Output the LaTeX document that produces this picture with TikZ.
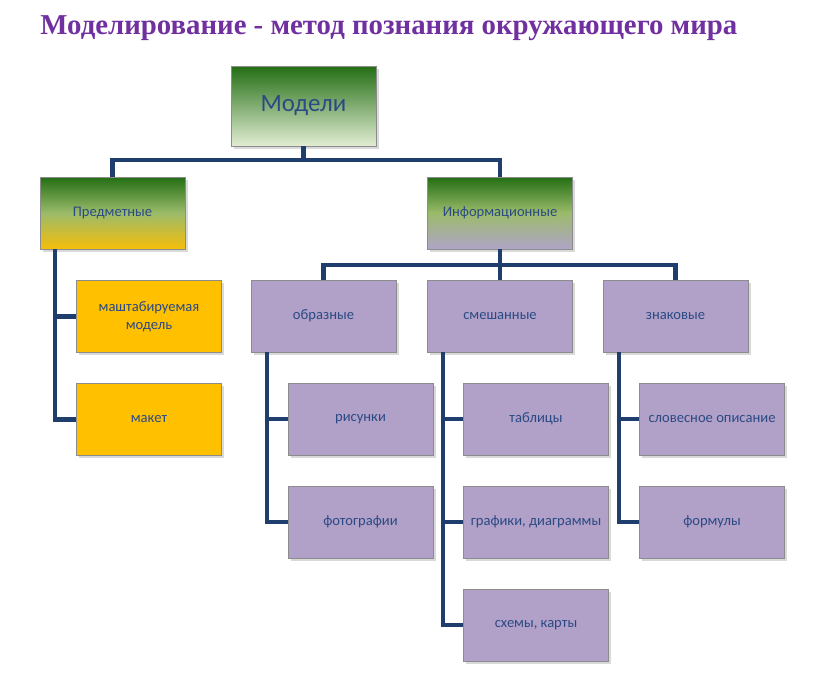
\documentclass[tikz,border=0pt]{standalone}
\usepackage{fontspec}
\setmainfont{Carlito}
\newfontfamily\titlefont{Liberation Serif}
\usetikzlibrary{positioning}
\usetikzlibrary{shadows}

\definecolor{theme}{HTML}{7030A0}
\definecolor{linkc}{HTML}{1F3D6D}
\definecolor{boxtext}{HTML}{2B4A85}
\definecolor{boxedge}{HTML}{8C8C8C}
\definecolor{gold}{HTML}{FFC000}
\definecolor{lilac}{HTML}{B1A0C7}
\definecolor{darkgreen}{HTML}{236E14}
\definecolor{midgreen}{HTML}{9BBB6A}
\definecolor{palegreen}{HTML}{E2EDD3}
\definecolor{deepgold}{HTML}{F5BE0A}
\definecolor{palelilac}{HTML}{B0A4C8}

\tikzset{
  box/.style={rectangle, draw=boxedge, line width=0.4pt,
    minimum width=2.9cm, minimum height=1.44cm, align=center,
    text=boxtext, font=\fontsize{8.3}{10}\selectfont,
    drop shadow={shadow xshift=1.5pt, shadow yshift=-1.5pt, opacity=0.3}},
  goldbox/.style={box, fill=gold},
  lilacbox/.style={box, fill=lilac},
  link/.style={draw=linkc, line width=2.3pt},
}

\begin{document}
\begin{tikzpicture}[x=0.02cm, y=-0.02cm]
        \useasboundingbox (0,0) rectangle (825,685);

        \node [anchor=base west, inner sep=0pt, text=theme,
            font=\titlefont\bfseries\fontsize{16.4}{20}\selectfont]
          (title) at (40,35) {Моделирование - метод познания окружающего мира};

        % top of the tree
        \node [box, minimum height=1.6cm, top color=darkgreen, bottom color=palegreen,
            font=\fontsize{14.2}{16}\selectfont]
          (models) at (303.5,106) {Модели};
        \node [box, top color=darkgreen, bottom color=deepgold, middle color=midgreen]
          (pred) at (112.5,213) {Предметные};
        \node [box, top color=darkgreen, bottom color=palelilac, middle color=midgreen]
          (info) at (500,213) {Информационные};

        % material models
        \node [goldbox] (mash) at (149,316.5) {маштабируемая\\модель};
        \node [goldbox] (maket) at (149,419.5) {макет};

        % information models
        \node [lilacbox] (obr) at (323.5,316) {образные};
        \node [lilacbox] (smesh) at (500,316) {смешанные};
        \node [lilacbox] (znak) at (675.5,316) {знаковые};

        \node [lilacbox] (ris) at (360.5,419) {рисунки};
        \node [lilacbox] (foto) at (360.5,522) {фотографии};
        \node [lilacbox] (tabl) at (536,419) {таблицы};
        \node [lilacbox] (graf) at (536,522) {графики, диаграммы};
        \node [lilacbox] (shem) at (536,625) {схемы, карты};
        \node [lilacbox] (slov) at (712,419) {словесное описание};
        \node [lilacbox] (form) at (712,522) {формулы};

        \draw [link] (models.south) -- ++(0,14) -| (pred.north);
        \draw [link] (models.south) -- ++(0,14) -| (info.north);

        \draw [link] (info.south) -- ++(0,16) -| (obr.north);
        \draw [link] (info.south) -- (smesh.north);
        \draw [link] (info.south) -- ++(0,16) -| (znak.north);

        \draw [link] ([xshift=0.3cm]pred.south west) |- (mash.west);
        \draw [link] ([xshift=0.3cm]pred.south west) |- (maket.west);

        \draw [link] ([xshift=0.32cm]obr.south west) |- (ris.west);
        \draw [link] ([xshift=0.32cm]obr.south west) |- (foto.west);

        \draw [link] ([xshift=0.32cm]smesh.south west) |- (tabl.west);
        \draw [link] ([xshift=0.32cm]smesh.south west) |- (graf.west);
        \draw [link] ([xshift=0.32cm]smesh.south west) |- (shem.west);

        \draw [link] ([xshift=0.32cm]znak.south west) |- (slov.west);
        \draw [link] ([xshift=0.32cm]znak.south west) |- (form.west);
    \end{tikzpicture}
\end{document}
